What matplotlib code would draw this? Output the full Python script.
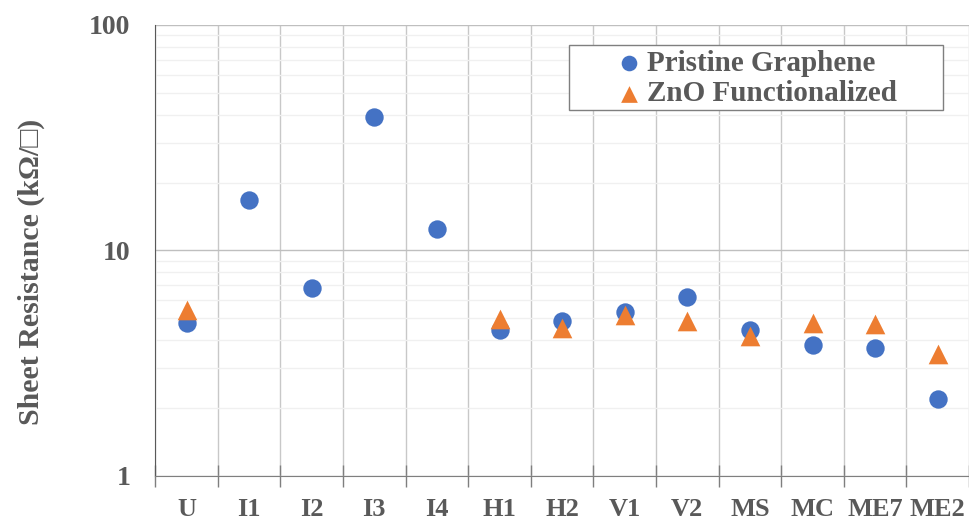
import numpy as np
import matplotlib
matplotlib.use('Agg')
import matplotlib.pyplot as plt
from matplotlib.patches import Rectangle
from matplotlib.ticker import FixedLocator, NullFormatter, LogLocator

# ============== 数据 ==============
samples = ['U', 'I1', 'I2', 'I3', 'I4', 'H1', 'H2', 'V1', 'V2', 'MS', 'MC', 'ME7', 'ME2']
pristine = [4.77, 16.7, 6.82, 39.1, 12.5, 4.44, 4.87, 5.34, 6.22, 4.44, 3.81, 3.70, 2.19]
zno_samples = ['U', 'H1', 'H2', 'V1', 'V2', 'MS', 'MC', 'ME7', 'ME2']
zno = [5.45, 4.97, 4.53, 5.18, 4.87, 4.18, 4.77, 4.72, 3.48]

BLUE = '#4472C4'
ORANGE = '#ED7D31'
TXT = '#595959'
FONT = ['Liberation Serif', 'DejaVu Serif']

plt.rcParams['font.family'] = FONT
plt.rcParams['font.weight'] = 'bold'
plt.rcParams['axes.labelweight'] = 'bold'

fig = plt.figure(figsize=(9.7, 5.2), dpi=100)
ax = fig.add_axes([0.160, 0.085, 0.839, 0.867])

x_p = np.arange(len(samples))
x_z = np.array([samples.index(s) for s in zno_samples])

ax.scatter(x_p, pristine, s=175, marker='o', color=BLUE, zorder=3,
           label='Pristine Graphene', linewidths=0)
ax.scatter(x_z, zno, s=200, marker='^', color=ORANGE, zorder=4,
           label='ZnO Functionalized', linewidths=0)

ax.set_yscale('log')
ax.set_ylim(1, 100)
ax.set_xlim(-0.5, len(samples) - 0.5)

# y 轴刻度
ax.yaxis.set_major_locator(FixedLocator([1, 10, 100]))
ax.set_yticklabels(['1', '10', '100'])
ax.yaxis.set_minor_locator(LogLocator(base=10, subs=np.arange(2, 10)))
ax.yaxis.set_minor_formatter(NullFormatter())
ax.tick_params(axis='y', which='both', length=0, pad=18, labelsize=20, labelcolor=TXT)

# x 轴：类别标签居中，分隔线在类别之间
ax.set_xticks(x_p)
ax.set_xticklabels(samples)
ax.xaxis.set_minor_locator(FixedLocator(np.arange(-0.5, len(samples), 1.0)))
ax.tick_params(axis='x', which='major', length=0, pad=16, labelsize=19, labelcolor=TXT)
ax.tick_params(axis='x', which='minor', direction='inout', length=16, width=1, color='#7f7f7f')

# 网格
ax.grid(True, axis='y', which='major', color='#bfbfbf', linewidth=1)
ax.grid(True, axis='y', which='minor', color='#f0f0f0', linewidth=1)
ax.grid(True, axis='x', which='minor', color='#c8c8c8', linewidth=1)
ax.set_axisbelow(True)

for side in ['top', 'right']:
    ax.spines[side].set_visible(False)
ax.spines['left'].set_color('#595959')
ax.spines['bottom'].set_color('#7f7f7f')

ax.set_ylabel('Sheet Resistance (kΩ/□)', fontsize=21.5, color=TXT)
ax.yaxis.set_label_coords(-0.135, 0.452)

# 图例：外框单独画，留出左右空白
ax.add_patch(Rectangle((0.508, 0.8115), 0.46, 0.1445, transform=ax.transAxes,
                       facecolor='white', edgecolor='#7f7f7f', linewidth=1, zorder=5))
leg = ax.legend(loc='center left', bbox_to_anchor=(0.5644, 0.881), fontsize=21,
                frameon=False, handletextpad=0.1, borderpad=0, labelspacing=0.12,
                borderaxespad=0, markerscale=0.85, handlelength=1.0)
leg.set_zorder(6)
for t in leg.get_texts():
    t.set_color(TXT)

fig.savefig('out.png', dpi=100, facecolor='white')
